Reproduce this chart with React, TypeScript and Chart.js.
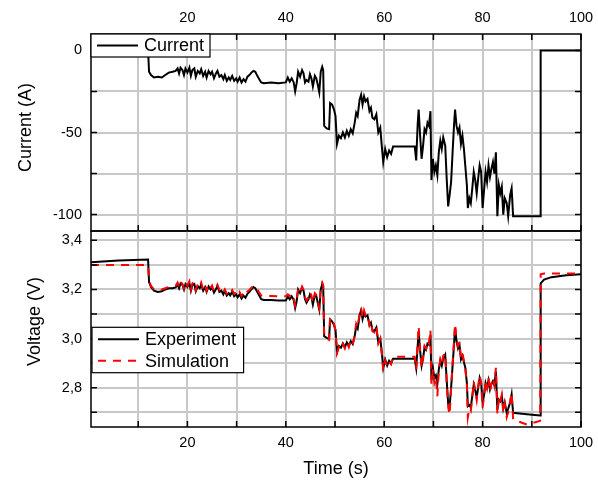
import React, { useEffect, useRef } from 'react';
import { Chart, registerables } from 'chart.js';

Chart.register(...registerables);

const FONT = "'Liberation Sans', Arial, Helvetica, sans-serif";

// Time axis (s)
const timeS = [
  0.4, 6, 12.0, 12.2, 12.6, 13.2, 14.0, 14.8,
  15.5, 16.2, 17.0, 17.6, 18.0, 18.3, 18.6, 19.0,
  19.3, 19.6, 20.0, 20.4, 20.7, 21.0, 21.4, 21.7,
  22.1, 22.5, 22.8, 23.2, 23.6, 23.9, 24.3, 24.7,
  25.0, 25.4, 25.8, 26.1, 26.5, 26.9, 27.3, 27.6,
  28.0, 28.4, 28.7, 29.1, 29.5, 29.9, 30.2, 30.6,
  31.0, 31.4, 31.8, 32.2, 32.6, 33.0, 33.4, 33.8,
  34.2, 34.6, 35.0, 35.5, 37, 38.5, 40, 40.4,
  40.8, 41.2, 41.6, 41.9, 42.2, 42.5, 42.9, 43.3,
  43.6, 43.9, 44.2, 44.6, 44.9, 45.2, 45.5, 45.9,
  46.2, 46.5, 46.8, 47.1, 47.4, 47.6, 47.8, 48.3,
  48.8, 49.0, 49.4, 49.8, 50.1, 50.4, 50.8, 51.2,
  51.6, 52.0, 52.4, 52.8, 53.2, 53.6, 54.0, 54.3,
  54.6, 55.0, 55.3, 55.6, 55.9, 56.2, 56.6, 57.0,
  57.3, 57.6, 58.0, 58.4, 58.8, 59.2, 59.5, 59.8,
  60.2, 60.6, 61.0, 61.4, 61.8, 66.2, 66.5, 66.8,
  67.0, 67.3, 67.6, 67.9, 68.2, 68.5, 68.8, 69.1,
  69.4, 69.6, 69.9, 70.2, 70.5, 70.8, 71.1, 71.4,
  71.7, 72.0, 72.4, 72.7, 73.0, 73.3, 73.6, 73.9,
  74.2, 74.4, 74.7, 75.0, 75.3, 75.6, 75.9, 76.2,
  76.5, 76.8, 77.0, 77.3, 77.6, 77.9, 78.2, 78.5,
  78.8, 79.1, 79.4, 79.7, 80.0, 80.3, 80.6, 80.9,
  81.2, 81.5, 81.8, 82.1, 82.4, 82.7, 83.0, 83.3,
  83.6, 83.9, 84.2, 84.5, 84.9, 85.2, 85.6, 85.9,
  86.2, 89, 91.7, 91.8, 92.5, 94, 97, 100,
];

// Current (A)
const currentA = [
  0, 0, 0, -13, -15, -16.5, -16, -16.5,
  -15, -13.5, -13, -12.5, -11, -14, -10.5, -12,
  -15, -11, -13.5, -10.5, -15.5, -12, -11, -16,
  -12.5, -14, -11.5, -15.5, -13, -16.5, -12.5, -14.5,
  -13, -17, -14, -12.5, -16, -15, -17.5, -15,
  -18.5, -16.5, -18, -15.5, -18.5, -17, -19, -16.5,
  -19.5, -17.5, -19, -16, -15, -13.5, -12.5, -13,
  -15.5, -17.5, -19.5, -20, -19.5, -20, -19.5, -16.5,
  -19, -17, -19.5, -25, -20, -13, -16, -12,
  -14, -19.5, -18, -19, -14.5, -17, -22, -15.5,
  -17, -21, -25.5, -13, -10, -12, -46, -47.5,
  -48, -32, -33, -36, -40, -57, -52, -53.5,
  -50, -53, -49, -52, -48, -50.5, -44, -38,
  -40, -30, -27, -33, -28, -31, -29.5, -37,
  -35, -41, -42, -39, -50, -47, -58, -68,
  -60, -65, -61, -63, -58.5, -58.5, -67, -45,
  -36, -52, -66, -58, -48, -50, -44, -46,
  -37, -79, -66, -74, -70, -76, -62, -55,
  -60, -53, -58, -78, -95, -88, -80, -62,
  -45, -36, -46, -50, -47, -57, -52, -60,
  -71, -82, -96, -90, -93, -84, -74, -79,
  -87, -78, -70, -74, -96, -85, -74, -80,
  -70, -77, -72, -68, -75, -62, -101, -82,
  -87, -83, -100, -90, -93, -101, -88, -84,
  -101, -101, -101, 0, 0, 0, 0, 0,
];

// Voltage (V), experiment
const voltageExp = [
  3.311, 3.318, 3.322, 3.23, 3.21, 3.195, 3.19, 3.193,
  3.2, 3.205, 3.205, 3.208, 3.22, 3.205, 3.225, 3.218,
  3.2, 3.222, 3.21, 3.226, 3.195, 3.218, 3.222, 3.193,
  3.213, 3.205, 3.22, 3.195, 3.21, 3.19, 3.212, 3.2,
  3.208, 3.187, 3.202, 3.213, 3.19, 3.195, 3.18, 3.195,
  3.175, 3.185, 3.176, 3.19, 3.172, 3.18, 3.168, 3.18,
  3.163, 3.175, 3.166, 3.182, 3.19, 3.2, 3.21, 3.205,
  3.19, 3.175, 3.16, 3.157, 3.157, 3.155, 3.155, 3.17,
  3.16, 3.172, 3.158, 3.125, 3.152, 3.2, 3.185, 3.207,
  3.195, 3.16, 3.146, 3.16, 3.18, 3.168, 3.138, 3.178,
  3.172, 3.145, 3.118, 3.2, 3.222, 3.212, 3.01, 3.003,
  3.0, 3.078, 3.07, 3.055, 3.035, 2.945, 2.97, 2.963,
  2.98, 2.965, 2.985, 2.97, 2.99, 2.978, 3.01, 3.05,
  3.04, 3.095, 3.115, 3.08, 3.105, 3.09, 3.095, 3.055,
  3.065, 3.035, 3.03, 3.045, 2.985, 3.0, 2.945, 2.88,
  2.915, 2.89, 2.91, 2.9, 2.918, 2.918, 2.88, 2.97,
  3.03, 2.95, 2.89, 2.92, 2.965, 2.955, 2.98, 2.975,
  3.015, 2.83, 2.88, 2.84, 2.85, 2.815, 2.875, 2.91,
  2.89, 2.92, 2.935, 2.83, 2.735, 2.725, 2.8, 2.89,
  2.98, 3.044, 2.99, 2.96, 2.975, 2.915, 2.93, 2.905,
  2.88, 2.82, 2.725, 2.73, 2.72, 2.766, 2.813, 2.79,
  2.76, 2.8, 2.84, 2.82, 2.739, 2.77, 2.82, 2.8,
  2.83, 2.793, 2.815, 2.827, 2.81, 2.867, 2.71, 2.752,
  2.745, 2.766, 2.715, 2.74, 2.698, 2.715, 2.74, 2.773,
  2.698, 2.692, 2.687, 3.225, 3.24, 3.25, 3.258, 3.262,
];

// Voltage (V), simulation
const voltageSim = [
  3.3, 3.3, 3.3, 3.235, 3.215, 3.2, 3.197, 3.2,
  3.205, 3.21, 3.212, 3.215, 3.228, 3.21, 3.232, 3.222,
  3.205, 3.23, 3.215, 3.233, 3.2, 3.225, 3.23, 3.198,
  3.222, 3.21, 3.228, 3.2, 3.218, 3.195, 3.22, 3.206,
  3.216, 3.192, 3.21, 3.22, 3.197, 3.203, 3.188, 3.2,
  3.183, 3.193, 3.185, 3.198, 3.182, 3.19, 3.178, 3.19,
  3.173, 3.185, 3.176, 3.192, 3.198, 3.207, 3.214, 3.212,
  3.2, 3.187, 3.175, 3.173, 3.173, 3.172, 3.172, 3.18,
  3.174, 3.182, 3.17, 3.135, 3.16, 3.205, 3.19, 3.212,
  3.2, 3.168, 3.155, 3.168, 3.19, 3.175, 3.145, 3.185,
  3.178, 3.15, 3.125, 3.205, 3.228, 3.218, 3.005, 3.0,
  2.995, 3.085, 3.078, 3.06, 3.03, 2.94, 2.965, 2.955,
  2.978, 2.96, 2.985, 2.965, 2.992, 2.975, 3.015, 3.06,
  3.045, 3.105, 3.125, 3.085, 3.115, 3.095, 3.1, 3.055,
  3.07, 3.03, 3.025, 3.05, 2.98, 3.0, 2.94, 2.87,
  2.91, 2.885, 2.905, 2.895, 2.926, 2.926, 2.875, 2.98,
  3.05, 2.955, 2.88, 2.925, 2.97, 2.96, 2.99, 2.98,
  3.035, 2.815, 2.875, 2.82, 2.84, 2.765, 2.87, 2.915,
  2.895, 2.93, 2.94, 2.82, 2.72, 2.69, 2.795, 2.9,
  2.995, 3.06, 3.0, 2.97, 2.985, 2.92, 2.94, 2.91,
  2.875, 2.81, 2.68, 2.715, 2.705, 2.76, 2.825, 2.785,
  2.75, 2.805, 2.85, 2.82, 2.72, 2.765, 2.83, 2.8,
  2.84, 2.785, 2.82, 2.84, 2.81, 2.881, 2.695, 2.76,
  2.74, 2.77, 2.7, 2.735, 2.68, 2.7, 2.745, 2.78,
  2.67, 2.65, 2.665, 3.262, 3.265, 3.265, 3.265, 3.265,
];

const xMin = 0.4;
const xMax = 100;
const xStep = 10;
const xLabelEvery = 20;
const currentMin = -110;
const currentMax = 10;
const currentStep = 25;
const currentLabelEvery = 50;
const voltageMin = 2.64;
const voltageMax = 3.438;
const voltageStep = 0.1;

const GRID = '#c8c8c8';

function frameTicksPlugin(sides: string[]) {
  return {
    id: 'frameTicks',
    afterDatasetsDraw(chart: any) {
      const { ctx, chartArea: a, scales } = chart;
      const len = 6;
      ctx.save();
      ctx.strokeStyle = '#000';
      ctx.lineWidth = 1.5;
      ctx.beginPath();
      scales.x.ticks.forEach((t: any) => {
        const px = scales.x.getPixelForValue(t.value);
        if (sides.includes('top')) {
          ctx.moveTo(px, a.top);
          ctx.lineTo(px, a.top + len);
        }
        if (sides.includes('bottom')) {
          ctx.moveTo(px, a.bottom);
          ctx.lineTo(px, a.bottom - len);
        }
      });
      scales.y.ticks.forEach((t: any) => {
        const py = scales.y.getPixelForValue(t.value);
        ctx.moveTo(a.left, py);
        ctx.lineTo(a.left + len, py);
        ctx.moveTo(a.right, py);
        ctx.lineTo(a.right - len, py);
      });
      ctx.stroke();
      ctx.strokeRect(a.left, a.top, a.right - a.left, a.bottom - a.top);
      ctx.restore();
    },
  };
}

function legendBoxPlugin(cfg: { dx: number; dy: number; w: number; h: number; pad: number; rowH: number }) {
  return {
    id: 'legendBox',
    afterDraw(chart: any) {
      const { ctx, chartArea: a } = chart;
      const x0 = a.left + cfg.dx;
      const y0 = a.top + cfg.dy;
      ctx.save();
      ctx.fillStyle = '#fff';
      ctx.fillRect(x0, y0, cfg.w, cfg.h);
      ctx.strokeStyle = '#000';
      ctx.lineWidth = 1.2;
      ctx.strokeRect(x0, y0, cfg.w, cfg.h);
      chart.data.datasets.forEach((ds: any, i: number) => {
        const cy = y0 + cfg.pad + cfg.rowH * (i + 0.5);
        ctx.beginPath();
        ctx.strokeStyle = ds.borderColor;
        ctx.lineWidth = ds.borderWidth;
        ctx.setLineDash(ds.borderDash || []);
        ctx.moveTo(x0 + 6, cy);
        ctx.lineTo(x0 + 47, cy);
        ctx.stroke();
        ctx.setLineDash([]);
        ctx.fillStyle = '#000';
        ctx.font = `18px ${FONT}`;
        ctx.textBaseline = 'middle';
        ctx.textAlign = 'left';
        ctx.fillText(ds.label, x0 + 53, cy + 1);
      });
      ctx.restore();
    },
  };
}

const tickFont = { family: FONT, size: 14.5 };
const titleFont = { family: FONT, size: 18 };

function xScale(position: 'top' | 'bottom', height: number, withTitle: boolean) {
  return {
    type: 'linear',
    position,
    min: xMin,
    max: xMax,
    afterFit: (s: any) => {
      s.height = height;
      s.paddingLeft = 0;
      s.paddingRight = 0;
    },
    ticks: {
      stepSize: xStep,
      includeBounds: false,
      autoSkip: false,
      maxRotation: 0,
      minRotation: 0,
      padding: 7.5,
      color: '#000',
      font: tickFont,
      callback: (v: number) => (Math.round(v) % xLabelEvery === 0 ? String(Math.round(v)) : ''),
    },
    grid: { color: GRID, lineWidth: 2, drawTicks: false },
    border: { display: false },
    title: withTitle
      ? { display: true, text: 'Time (s)', color: '#000', font: titleFont, padding: { top: 0, bottom: 1 } }
      : { display: false },
  };
}

function CurrentChart() {
  const ref = useRef<HTMLCanvasElement>(null);
  useEffect(() => {
    if (!ref.current) return;
    const chart = new Chart(ref.current, {
      type: 'line',
      data: {
        datasets: [
          {
            label: 'Current',
            data: timeS.map((t, i) => ({ x: t, y: currentA[i] })),
            borderColor: '#000',
            borderWidth: 2,
            pointRadius: 0,
            fill: false,
            tension: 0,
          },
        ],
      },
      options: {
        responsive: false,
        animation: false,
        events: [],
        layout: { padding: { left: 0, top: 0, right: 17, bottom: 9 } },
        plugins: { legend: { display: false }, tooltip: { enabled: false } },
        scales: {
          x: xScale('top', 34, false) as any,
          y: {
            type: 'linear',
            position: 'left',
            min: currentMin,
            max: currentMax,
            afterFit: (s: any) => {
              s.width = 91;
              s.paddingTop = 0;
              s.paddingBottom = 0;
            },
            ticks: {
              stepSize: currentStep,
              includeBounds: false,
              autoSkip: false,
              padding: 9,
              color: '#000',
              font: tickFont,
              callback: (v: number) => (Math.round(v) % currentLabelEvery === 0 ? String(Math.round(v)) : ''),
            },
            grid: { color: GRID, lineWidth: 2, drawTicks: false },
            border: { display: false },
            title: { display: true, text: '  Current (A)', color: '#000', font: titleFont, padding: { top: 15, bottom: 0 } },
          },
        },
      },
      plugins: [frameTicksPlugin(['top', 'bottom']), legendBoxPlugin({ dx: 0, dy: 0, w: 119, h: 23, pad: 0, rowH: 23 })],
    } as any);
    return () => chart.destroy();
  }, []);
  return <canvas ref={ref} width={598} height={240} style={{ position: 'absolute', left: 0, top: 0 }} />;
}

function VoltageChart() {
  const ref = useRef<HTMLCanvasElement>(null);
  useEffect(() => {
    if (!ref.current) return;
    const chart = new Chart(ref.current, {
      type: 'line',
      data: {
        datasets: [
          {
            label: 'Experiment',
            data: timeS.map((t, i) => ({ x: t, y: voltageExp[i] })),
            borderColor: '#000',
            borderWidth: 2,
            pointRadius: 0,
            fill: false,
            tension: 0,
            order: 1,
          },
          {
            label: 'Simulation',
            data: timeS.map((t, i) => ({ x: t, y: voltageSim[i] })),
            borderColor: '#ff0000',
            borderWidth: 2,
            borderDash: [8, 7],
            pointRadius: 0,
            fill: false,
            tension: 0,
            order: 0,
          },
        ],
      },
      options: {
        responsive: false,
        animation: false,
        events: [],
        layout: { padding: { left: 0, top: 6, right: 17, bottom: 0 } },
        plugins: { legend: { display: false }, tooltip: { enabled: false } },
        scales: {
          x: xScale('bottom', 54, true) as any,
          y: {
            type: 'linear',
            position: 'left',
            min: voltageMin,
            max: voltageMax,
            afterFit: (s: any) => {
              s.width = 91;
              s.paddingTop = 0;
              s.paddingBottom = 0;
            },
            ticks: {
              stepSize: voltageStep,
              includeBounds: false,
              autoSkip: false,
              padding: 9,
              color: '#000',
              font: tickFont,
              callback: (v: number) => {
                const r = Math.round(v * 10);
                return r % 2 === 0 ? (r / 10).toFixed(1).replace('.', ',') : '';
              },
            },
            grid: { color: GRID, lineWidth: 2, drawTicks: false },
            border: { display: false },
            title: { display: true, text: '   Voltage (V)', color: '#000', font: titleFont, padding: { top: 24, bottom: 0 } },
          },
        },
      },
      plugins: [frameTicksPlugin(['bottom']), legendBoxPlugin({ dx: 1, dy: 96.3, w: 151.6, h: 45.4, pad: 1, rowH: 21.7 })],
    } as any);
    return () => chart.destroy();
  }, []);
  return <canvas ref={ref} width={598} height={256} style={{ position: 'absolute', left: 0, top: 225 }} />;
}

export default function App() {
  return (
    <div style={{ position: 'absolute', left: 0, top: 0, width: 598, height: 481, background: '#fff', overflow: 'hidden' }}>
      <CurrentChart />
      <VoltageChart />
    </div>
  );
}
